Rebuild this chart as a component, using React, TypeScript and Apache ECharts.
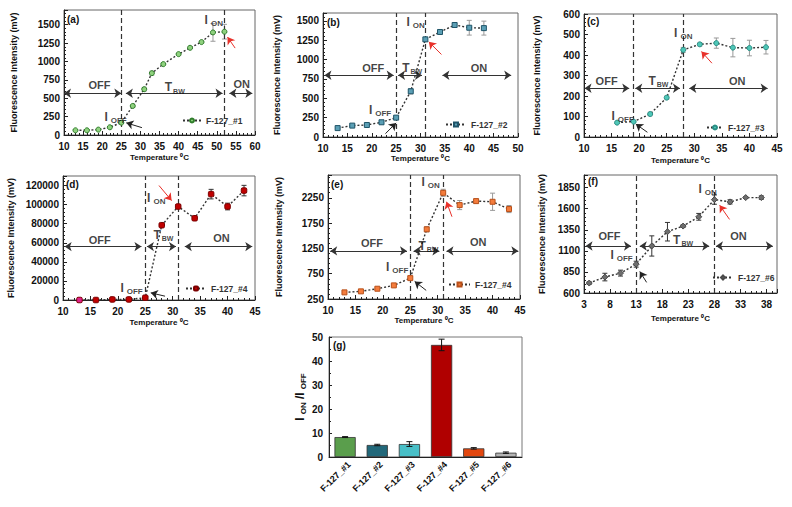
import React, { useEffect, useRef } from "react";
import * as echarts from "echarts";

const FONT = "'Liberation Sans', Arial, Helvetica, sans-serif";

// (a) F-127_#1
const tempsA = [13, 16, 19, 22, 25, 28, 31, 33, 36, 40, 43, 46, 49, 52];
const intensityA = [64, 64, 73, 105, 168, 395, 623, 841, 964, 1100, 1186, 1264, 1395, 1405];
const errorA = [8, 8, 8, 10, 15, 20, 25, 25, 15, 15, 15, 15, 120, 100];
// (b) F-127_#2
const tempsB = [13, 16, 19, 22, 25, 28, 31, 34, 37, 40, 43];
const intensityB = [115, 147, 155, 190, 250, 590, 1260, 1355, 1445, 1410, 1405];
const errorB = [10, 10, 10, 10, 15, 35, 25, 20, 20, 95, 90];
// (c) F-127_#3
const tempsC = [16, 19, 22, 25, 28, 31, 34, 37, 40, 43];
const intensityC = [70, 75, 112, 192, 425, 452, 458, 436, 434, 438];
const errorC = [5, 5, 8, 8, 12, 8, 25, 45, 38, 33];
// (d) F-127_#4
const tempsD = [13, 16, 19, 22, 25, 28, 31, 34, 37, 40, 43];
const intensityD = [0, 0, 600, 600, 2400, 78400, 98000, 85700, 111000, 98000, 114700];
const errorD = [300, 300, 300, 300, 500, 1500, 2000, 1500, 5000, 3500, 5500];
// (e) F-127_#5 (labelled F-127_#4 in the legend)
const tempsE = [13, 16, 19, 22, 25, 28, 31, 34, 37, 40, 43];
const intensityE = [381, 401, 453, 519, 663, 1627, 2348, 2106, 2184, 2171, 2027];
const errorE = [15, 15, 15, 15, 30, 50, 70, 90, 40, 170, 70];
// (f) F-127_#6
const tempsF = [4, 7, 10, 13, 16, 19, 22, 25, 28, 31, 34, 37];
const intensityF = [718, 789, 836, 942, 1158, 1327, 1394, 1504, 1708, 1681, 1732, 1732];
const errorF = [15, 45, 35, 35, 120, 110, 15, 40, 55, 25, 10, 20];
// (g) ratios
const sampleNames = ["F-127_#1", "F-127_#2", "F-127_#3", "F-127_#4", "F-127_#5", "F-127_#6"];
const onOffRatios = [8.3, 5.0, 5.4, 46.7, 3.6, 1.8];
const ratioErrors = [0.2, 0.3, 1.0, 2.4, 0.3, 0.3];
const barColors = ["#5a9e4c", "#22687a", "#48bfc7", "#b00000", "#e2470f", "#b4b4b4"];

const TXT = "#111";
const rich = {
  big: { fontSize: 12, fontWeight: "bold", fontFamily: FONT, color: TXT, lineHeight: 16 },
  sub: { fontSize: 8, fontWeight: "bold", fontFamily: FONT, color: TXT, lineHeight: 9, padding: [7, 0, 0, 3] },
  tt: { fontSize: 12, fontWeight: "bold", fontFamily: FONT, color: TXT, lineHeight: 16 },
  tsub: { fontSize: 7, fontWeight: "bold", fontFamily: FONT, color: TXT, lineHeight: 8, padding: [8, 0, 0, 1] },
  word: { fontSize: 11, fontWeight: "bold", fontFamily: FONT, color: TXT, lineHeight: 16 },
};

const panels = [
  {
    tag: "(a)", name: "F-127_#1", sname: "F-127_#1", temps: tempsA, values: intensityA, errors: errorA,
    grid: { left: 64, top: 10, width: 191, height: 125 },
    x: [10, 60, 5], y: [0, 1700, 250], showMaxX: true, showMaxY: false, yGap: 46, xGap: 18,
    symbol: "circle", size: 5, fill: "#8fd17e", stroke: "#2f7d2a", errColor: "#999",
    onOff: [25, 52], arrowY: 568, spans: [[10, 25], [26.2, 51.5], [53.3, 59.3]],
    off: [19.3, 682], tbw: [39, 650], on: [56.5, 695], ioff: [23.5, 241], ion: [49.2, 1559],
    black: [[30.4, 100], [26.3, 165]], red: [[54.8, 1182], [52.8, 1332]],
    legend: [182, 116, 18], tagPos: [67, 14],
  },
  {
    tag: "(b)", name: "F-127_#2", sname: "F-127_#2", temps: tempsB, values: intensityB, errors: errorB,
    grid: { left: 323, top: 13, width: 195, height: 124 },
    x: [10, 50, 5], y: [0, 1600, 250], showMaxX: true, showMaxY: false, yGap: 42, xGap: 17,
    symbol: "rect", size: 5, fill: "#5b9fb5", stroke: "#1f5468", errColor: "#999",
    onOff: [25, 31], arrowY: 797, spans: [[10.3, 24.5], [25.4, 30.3], [34.5, 48.6]],
    off: [20.3, 892], tbw: [28.3, 892], on: [42, 892], ioff: [21.7, 353], ion: [29, 1487],
    black: [[22.8, 43], [25, 181]], red: [[34.3, 1065], [31.7, 1228]],
    legend: [445, 120, 20], tagPos: [327, 17],
  },
  {
    tag: "(c)", name: "F-127_#3", sname: "F-127_#3", temps: tempsC, values: intensityC, errors: errorC,
    grid: { left: 584, top: 14, width: 193, height: 123 },
    x: [10, 45, 5], y: [0, 600, 100], showMaxX: true, showMaxY: true, yGap: 43, xGap: 19,
    symbol: "circle", size: 5, fill: "#4fc7b8", stroke: "#2a8f85", errColor: "#999",
    onOff: [19, 28], arrowY: 238, spans: [[10.1, 18.2], [19.3, 27.4], [29.1, 43.3]],
    off: [14.1, 271], tbw: [23.5, 274], on: [37.8, 271], ioff: [17, 104], ion: [28, 506],
    black: [[21.5, 23], [19.4, 63]], red: [[33.2, 360], [31.3, 417]],
    legend: [706, 123, 16], tagPos: [587, 16],
  },
  {
    tag: "(d)", name: "F-127_#4", sname: "F-127_#4", temps: tempsD, values: intensityD, errors: errorD,
    grid: { left: 63, top: 176, width: 192, height: 124 },
    x: [10, 45, 5], y: [0, 130000, 20000], showMaxX: true, showMaxY: false, yGap: 48, xGap: 18,
    symbol: "roundRect", size: 5.5, fill: "#c00000", stroke: "#7a0000", errColor: "#333",
    firstColor: "#e0208c",
    onOff: [25, 31], arrowY: 56000, spans: [[10.3, 24.3], [25.3, 30.6], [32.2, 44.5]],
    off: [16.7, 63000], tbw: [28.3, 68200], on: [38.9, 64700], ioff: [22.5, 12250], ion: [27, 107400],
    black: [[28.6, 4000], [26, 7500]], red: [[27.5, 120000], [29.8, 104200]],
    legend: [185, 284, 20], tagPos: [66, 179],
  },
  {
    tag: "(e)", name: "F-127_#4", sname: "F-127_#4 (e)", temps: tempsE, values: intensityE, errors: errorE,
    grid: { left: 328, top: 175, width: 192, height: 124 },
    x: [10, 45, 5], y: [250, 2700, 500], showMaxX: true, showMaxY: false, yGap: 45, xGap: 17,
    symbol: "rect", size: 5, fill: "#f47c3c", stroke: "#b8501a", errColor: "#999",
    onOff: [25, 31], arrowY: 1200, spans: [[10.4, 24.4], [25.6, 30.3], [31.6, 44.7]],
    off: [18, 1352], tbw: [28.3, 1299], on: [37.4, 1384], ioff: [22.6, 873], ion: [28.7, 2552],
    black: [[27.9, 420], [25.8, 598]], red: [[32.6, 1876], [31.6, 2171]],
    legend: [448, 280, 21], tagPos: [331, 179],
  },
  {
    tag: "(f)", name: "F-127_#6", sname: "F-127_#6", temps: tempsF, values: intensityF, errors: errorF,
    grid: { left: 584, top: 175, width: 193, height: 118 },
    x: [3, 40, 5], y: [600, 2000, 250], showMaxX: false, showMaxY: false, yGap: 38, xGap: 21,
    symbol: "diamond", size: 6, fill: "#6e6e6e", stroke: "#4a4a4a", errColor: "#333",
    onOff: [13, 28], arrowY: 1158, spans: [[3.3, 12], [13.7, 27], [28.3, 39.2]],
    off: [7.9, 1280], tbw: [22, 1229], on: [32.6, 1280], ioff: [10.2, 1048], ion: [26.7, 1830],
    black: [[15, 726], [13.7, 855]], red: [[30.9, 1473], [29, 1642]],
    legend: [712, 273, 20], tagPos: [588, 176],
  },
];

function errorBarSeries(data: any[], xi: number, color: string, yMin: number, cap: number) {
  return {
    type: "custom",
    xAxisIndex: xi,
    yAxisIndex: xi,
    z: 4,
    silent: true,
    data,
    renderItem: (_params: any, api: any) => {
      const x = api.value(0);
      const y = api.value(1);
      const e = api.value(2);
      const top = api.coord([x, y + e]);
      const bot = api.coord([x, Math.max(y - e, yMin)]);
      const style = { stroke: color, lineWidth: 1 };
      return {
        type: "group",
        children: [
          { type: "line", shape: { x1: top[0], y1: top[1], x2: bot[0], y2: bot[1] }, style },
          { type: "line", shape: { x1: top[0] - cap, y1: top[1], x2: top[0] + cap, y2: top[1] }, style },
          { type: "line", shape: { x1: bot[0] - cap, y1: bot[1], x2: bot[0] + cap, y2: bot[1] }, style },
        ],
      };
    },
  };
}

const plain = (v: number) => String(v);
const axisLabelStyle = { fontFamily: FONT, fontWeight: "bold", fontSize: 10, color: TXT };
const nameStyle = { fontFamily: FONT, fontWeight: "bold", fontSize: 9, color: TXT };

function buildOption() {
  const grid: any[] = [];
  const xAxis: any[] = [];
  const yAxis: any[] = [];
  const series: any[] = [];
  const legend: any[] = [];
  const graphic: any[] = [];

  panels.forEach((p, i) => {
    grid.push({ ...p.grid, show: true, borderColor: "#666", borderWidth: 1, containLabel: false });
    xAxis.push({
      type: "value", gridIndex: i, min: p.x[0], max: p.x[1], interval: p.x[2],
      name: "Temperature \u2070C", nameLocation: "middle", nameGap: p.xGap,
      nameTextStyle: { ...nameStyle, fontSize: 8 },
      axisLine: { show: true, onZero: false, lineStyle: { color: "#222", width: 1 } },
      axisTick: { show: true, inside: true, length: 4, lineStyle: { color: "#222" } },
      minorTick: { show: true, splitNumber: 5, length: 2, lineStyle: { color: "#222" } },
      axisLabel: { ...axisLabelStyle, margin: 6, showMaxLabel: p.showMaxX, formatter: plain },
      splitLine: { show: false },
    });
    yAxis.push({
      type: "value", gridIndex: i, min: p.y[0], max: p.y[1], interval: p.y[2],
      name: "Fluorescence Intensity (mV)", nameLocation: "middle", nameGap: p.yGap,
      nameTextStyle: nameStyle,
      axisLine: { show: true, onZero: false, lineStyle: { color: "#222", width: 1 } },
      axisTick: { show: true, inside: true, length: 4, lineStyle: { color: "#222" } },
      minorTick: { show: true, splitNumber: 5, length: 2, lineStyle: { color: "#222" } },
      axisLabel: { ...axisLabelStyle, margin: 4, showMaxLabel: p.showMaxY, formatter: plain },
      splitLine: { show: false },
    });

    series.push({
      type: "line",
      name: p.sname,
      xAxisIndex: i,
      yAxisIndex: i,
      z: 5,
      data: p.temps.map((t, k) => {
        const item: any = { value: [t, p.values[k]] };
        if (k === 0 && (p as any).firstColor) item.itemStyle = { color: (p as any).firstColor };
        return item;
      }),
      symbol: p.symbol,
      symbolSize: p.size,
      showSymbol: true,
      lineStyle: { color: "#333", width: 1.4, type: [2, 2] },
      itemStyle: { color: p.fill, borderColor: p.stroke, borderWidth: 1 },
    });

    series.push(
      errorBarSeries(p.temps.map((t, k) => [t, p.values[k], p.errors[k]]), i, p.errColor, p.y[0], 2.5)
    );

    const arrowLine = (a: number[], b: number[], color: string) => [
      { coord: a, symbol: "none", lineStyle: { color, width: 1, type: "solid" } },
      { coord: b, symbol: "arrow" },
    ];
    const doubleArrow = (s: number[]) => [
      { coord: [s[0], p.arrowY], symbol: "arrow", lineStyle: { color: "#333", width: 1, type: "solid" } },
      { coord: [s[1], p.arrowY], symbol: "arrow" },
    ];

    series.push({
      type: "scatter",
      name: "annotations-" + i,
      xAxisIndex: i,
      yAxisIndex: i,
      symbolSize: 0.1,
      silent: true,
      z: 6,
      itemStyle: { color: "transparent" },
      label: { show: true, position: "inside", rich },
      data: [
        { value: p.off, label: { formatter: "{word|OFF}" } },
        { value: p.tbw, label: { formatter: "{tt|T}{tsub|BW}" } },
        { value: p.on, label: { formatter: "{word|ON}" } },
        { value: p.ioff, label: { formatter: "{big|I}{sub|OFF}" } },
        { value: p.ion, label: { formatter: "{big|I}{sub|ON}" } },
      ],
      markLine: {
        silent: true,
        symbol: "none",
        symbolSize: 7,
        label: { show: false },
        data: [
          { xAxis: p.onOff[0], lineStyle: { color: "#333", width: 1.2, type: [5, 3] } },
          { xAxis: p.onOff[1], lineStyle: { color: "#333", width: 1.2, type: [5, 3] } },
          ...p.spans.map(doubleArrow),
          arrowLine(p.black[0], p.black[1], "#222"),
          arrowLine(p.red[0], p.red[1], "#e8312a"),
        ],
      },
    });

    legend.push({
      data: [p.sname],
      left: p.legend[0],
      top: p.legend[1],
      itemWidth: p.legend[2],
      itemHeight: 5,
      padding: 0,
      selectedMode: false,
      formatter: () => p.name,
      textStyle: { fontFamily: FONT, fontWeight: "bold", fontSize: 8.5, color: "#333" },
    });

    graphic.push({
      type: "text",
      left: p.tagPos[0],
      top: p.tagPos[1],
      style: { text: p.tag, font: `bold 10px ${FONT}`, fill: TXT },
    });
  });

  // (g) bar chart
  const gi = panels.length;
  grid.push({ left: 329, top: 337, width: 193, height: 120, show: true, borderColor: "#777", borderWidth: 1 });
  xAxis.push({
    type: "category", gridIndex: gi, data: sampleNames,
    axisLine: { show: true, lineStyle: { color: "#222" } },
    axisTick: { show: false },
    axisLabel: { show: false },
  });
  yAxis.push({
    type: "value", gridIndex: gi, min: 0, max: 50, interval: 10,
    name: "{big|I}{sub|ON}{big| /I}{sub|OFF}", nameLocation: "middle", nameGap: 20,
    nameTextStyle: { rich },
    axisLine: { show: true, lineStyle: { color: "#222" } },
    axisTick: { show: true, inside: true, length: 3, lineStyle: { color: "#222" } },
    minorTick: { show: true, splitNumber: 2, length: 2, lineStyle: { color: "#222" } },
    axisLabel: { ...axisLabelStyle, margin: 6, formatter: plain },
    splitLine: { show: false },
  });
  series.push({
    type: "bar",
    name: "ratio",
    xAxisIndex: gi,
    yAxisIndex: gi,
    barWidth: "66%",
    data: onOffRatios.map((v, k) => ({ value: v, itemStyle: { color: barColors[k], borderColor: "#333", borderWidth: 0.8 } })),
  });
  series.push(errorBarSeries(onOffRatios.map((v, k) => [k, v, ratioErrors[k]]), gi, "#111", 0, 3));
  // rotated category labels (45°), anchored at each category's tick position
  series.push({
    type: "custom",
    name: "category-labels",
    xAxisIndex: gi,
    yAxisIndex: gi,
    silent: true,
    clip: false,
    data: sampleNames.map((_n, k) => [k, 0]),
    renderItem: (params: any, api: any) => {
      const k = api.value(0);
      const pt = api.coord([k, 0]);
      return {
        type: "text",
        x: pt[0] + 4,
        y: pt[1] + 6,
        rotation: Math.PI / 4,
        style: {
          text: sampleNames[params.dataIndex],
          align: "right",
          verticalAlign: "middle",
          font: `bold 9px ${FONT}`,
          fill: TXT,
        },
      };
    },
  });
  graphic.push({
    type: "text", left: 333, top: 340,
    style: { text: "(g)", font: `bold 10px ${FONT}`, fill: TXT },
  });

  return {
    animation: false,
    backgroundColor: "#ffffff",
    textStyle: { fontFamily: FONT },
    grid,
    xAxis,
    yAxis,
    legend,
    series,
    graphic,
  };
}

export default function App() {
  const ref = useRef<HTMLDivElement>(null);
  useEffect(() => {
    const chart = echarts.init(ref.current as HTMLDivElement, null, { renderer: "svg" });
    chart.setOption(buildOption() as any);
    return () => chart.dispose();
  }, []);
  return (
    <div
      ref={ref}
      style={{ position: "fixed", left: 0, top: 0, width: 792, height: 507, background: "#fff" }}
    />
  );
}
